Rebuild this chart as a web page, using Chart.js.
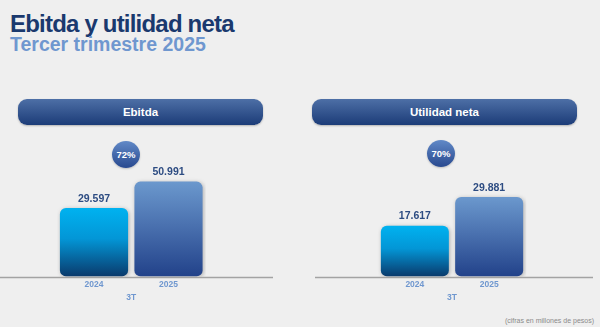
<!DOCTYPE html>
<html>
<head>
<meta charset="utf-8">
<script src="https://cdn.jsdelivr.net/npm/chart.js@4.4.0/dist/chart.umd.min.js"></script>
<style>
  body { margin: 0; width: 600px; height: 327px; overflow: hidden; background: #efefef; font-family: "Liberation Sans", Arial, sans-serif; position: relative; }
  .t1 { position: absolute; left: 10px; top: 12px; font-size: 24px; line-height: 24px; font-weight: bold; color: #1a396e; letter-spacing: -0.8px; }
  .t2 { position: absolute; left: 10px; top: 35px; font-size: 19.5px; line-height: 19.5px; font-weight: bold; color: #6f97cf; }
  .pill { position: absolute; top: 99px; height: 26px; border-radius: 9px; background: linear-gradient(#4d6fa6, #1c3c78); color: #fff; font-weight: bold; font-size: 11.5px; display: flex; align-items: center; justify-content: center; box-shadow: 0 1px 2px rgba(0,0,0,0.25); }
  .badge { position: absolute; width: 28px; height: 27px; border-radius: 50%; background: linear-gradient(#6189c7, #28498f); color: #fff; font-weight: bold; font-size: 9.5px; display: flex; align-items: center; justify-content: center; box-shadow: 0 1px 2px rgba(0,0,0,0.2); }
  canvas { position: absolute; }
  .note { position: absolute; right: 6px; top: 317px; font-size: 7px; color: #8a8a8a; }
</style>
</head>
<body>
<div class="t1">Ebitda y utilidad neta</div>
<div class="t2">Tercer trimestre 2025</div>

<div class="pill" style="left:18px;width:245px;">Ebitda</div>
<div class="pill" style="left:312px;width:265px;">Utilidad neta</div>

<div class="badge" id="b1" style="left:112px;top:141px;"></div>
<div class="badge" id="b2" style="left:427px;top:140px;"></div>

<canvas id="c1" style="left:0px;top:130px;" width="273" height="173"></canvas>
<canvas id="c2" style="left:315px;top:130px;" width="278" height="173"></canvas>

<div class="note">(cifras en millones de pesos)</div>

<script>
// datos (millones de pesos)
var years = ["2024", "2025"];
var quarter = ["3T"];
var ebitda = [29597, 50991];
var utilidad = [17617, 29881];

Chart.defaults.font.family = "'Liberation Sans', Arial, sans-serif";

function fmt(v) {
  return String(v).replace(/\B(?=(\d{3})+(?!\d))/g, ".");
}

function growth(arr) {
  return Math.round((arr[1] / arr[0] - 1) * 100) + "%";
}
document.getElementById("b1").textContent = growth(ebitda);
document.getElementById("b2").textContent = growth(utilidad);

var barColors = [
  ["#00b2f0", "#0396d6", "#0a3a6c"],
  ["#6b98cd", "#4b72b0", "#22428a"]
];

function barFill(context) {
  var chart = context.chart;
  var sc = chart.scales.y;
  if (!sc || !chart.chartArea) return barColors[context.dataIndex][0];
  var top = sc.getPixelForValue(context.raw);
  var bot = chart.chartArea.bottom;
  var g = chart.ctx.createLinearGradient(0, top, 0, bot);
  var c = barColors[context.dataIndex];
  g.addColorStop(0, c[0]);
  g.addColorStop(0.45, c[1]);
  g.addColorStop(1, c[2]);
  return g;
}

var extras = {
  id: "extras",
  beforeDatasetsDraw: function(chart) {
    var ctx = chart.ctx;
    ctx.save();
    ctx.strokeStyle = "#a3a3a3";
    ctx.lineWidth = 1.5;
    ctx.beginPath();
    ctx.moveTo(0, chart.chartArea.bottom + 1);
    ctx.lineTo(chart.width, chart.chartArea.bottom + 1);
    ctx.stroke();
    ctx.restore();
    ctx.save();
    ctx.shadowColor = "rgba(0,0,0,0.28)";
    ctx.shadowBlur = 4;
    ctx.shadowOffsetX = 1;
    ctx.shadowOffsetY = 1;
  },
  afterDatasetsDraw: function(chart) {
    var ctx = chart.ctx;
    ctx.restore();
    ctx.save();
    ctx.font = "bold 10.5px 'Liberation Sans', Arial, sans-serif";
    ctx.fillStyle = "#2d4c82";
    ctx.textAlign = "center";
    ctx.textBaseline = "bottom";
    chart.getDatasetMeta(0).data.forEach(function(el, i) {
      ctx.fillText(fmt(chart.data.datasets[0].data[i]), el.x, el.y - 4);
    });
    ctx.restore();
  }
};

function makeChart(id, values, yMin, yMax, padL, padR) {
  return new Chart(document.getElementById(id), {
    type: "bar",
    data: {
      labels: years,
      datasets: [{
        data: values,
        base: yMin,
        backgroundColor: barFill,
        borderRadius: 6,
        borderSkipped: false,
        categoryPercentage: 1,
        barPercentage: 0.915
      }]
    },
    options: {
      responsive: false,
      animation: false,
      layout: { padding: { left: padL, right: padR, top: 20, bottom: 0 } },
      plugins: { legend: { display: false }, tooltip: { enabled: false } },
      scales: {
        y: { display: false, min: yMin, max: yMax },
        x: {
          grid: { display: false, drawTicks: false },
          border: { display: false },
          ticks: { color: "#6f97cf", padding: 6, font: { size: 8.5, weight: "bold", lineHeight: 0.45 } }
        },
        x2: {
          type: "category",
          labels: quarter,
          position: "bottom",
          grid: { display: false, drawTicks: false },
          border: { display: false },
          ticks: { color: "#6f97cf", padding: 0, font: { size: 8.5, weight: "bold", lineHeight: 1.27 } }
        }
      }
    },
    plugins: [extras]
  });
}

makeChart("c1", ebitda, -25900, 76650, 56.75, 67.25);
makeChart("c2", utilidad, -3950, 49970, 62.7, 66.7);
</script>
</body>
</html>
